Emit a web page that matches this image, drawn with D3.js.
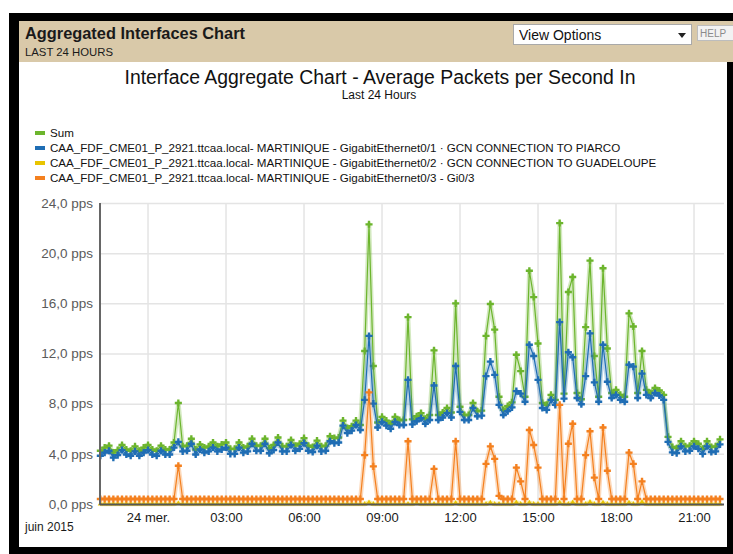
<!DOCTYPE html>
<html>
<head>
<meta charset="utf-8">
<script src="https://cdn.jsdelivr.net/npm/d3@7/dist/d3.min.js"></script>
<style>
  html, body { margin: 0; padding: 0; background: #fff; }
  svg { display: block; }
  text { font-family: "Liberation Sans", Arial, sans-serif; }
</style>
</head>
<body>
<svg id="chart" width="733" height="554"></svg>
<script>
// ---------------- DATA ----------------
const startTime = "2015-06-23T22:10:00Z";   // first sample
const stepMinutes = 10;                      // sampling interval

const seriesNames = [
  "Sum",
  "CAA_FDF_CME01_P_2921.ttcaa.local- MARTINIQUE  - GigabitEthernet0/1  · GCN CONNECTION TO PIARCO",
  "CAA_FDF_CME01_P_2921.ttcaa.local- MARTINIQUE  - GigabitEthernet0/2  · GCN CONNECTION TO GUADELOUPE",
  "CAA_FDF_CME01_P_2921.ttcaa.local- MARTINIQUE  - GigabitEthernet0/3  - Gi0/3"
];

const sumValues = [
  4.25, 4.5, 4.65, 4.1, 4.3, 4.7, 4.35, 4.25, 4.6, 4.25, 4.5, 4.7, 4.35, 4.25, 4.65, 4.35, 4.35, 4.9, 8.05, 4.6,
  4.65, 5.2, 4.35, 4.75, 4.5, 4.6, 4.9, 4.6, 4.75,
  4.9, 4.4, 4.4, 4.9, 4.5, 4.6, 5.2, 4.65, 4.65, 5.2, 4.45, 4.7, 5.3, 4.6, 4.6, 5.1, 4.65, 4.8, 5.25, 4.65,
  4.55, 5.05, 4.6, 4.65, 5.4, 5.25, 5.3, 6.65, 6.05,
  6.2, 6.65, 6.3, 12.2, 22.3, 11.0, 6.5, 6.95, 6.65, 6.4, 6.95, 6.7, 6.7, 14.9, 6.75, 7.0, 7.25, 6.8, 7.1, 12.25,
  7.1, 7.3, 7.65, 7.3, 16.0, 7.75, 7.1, 7.1,
  8.05, 7.4, 7.45, 13.4, 15.95, 13.9, 8.55, 7.5, 7.8, 8.1, 11.9, 10.6, 8.55, 18.6, 16.5, 12.8, 8.05, 7.9, 8.7, 8.3,
  22.4, 8.8, 16.9, 18.1, 8.85, 8.35, 14.1, 19.4, 11.8,
  8.55, 18.8, 12.4, 8.85, 9.1, 8.7, 8.55, 15.2, 14.15, 8.85, 12.2, 9.1, 8.85, 9.25, 9.05, 8.7, 5.35, 4.55, 4.45, 5.0,
  4.6, 4.65, 5.0, 4.8, 4.4, 5.0, 4.55, 4.6, 5.15
];

const gi01Values = [
  3.85, 4.1, 4.25, 3.7, 3.9, 4.3, 3.95, 3.85, 4.2, 3.85, 4.1, 4.3, 3.95, 3.85, 4.25, 3.95, 3.95, 4.5, 4.95, 4.2,
  4.25, 4.8, 3.95, 4.35, 4.1, 4.2, 4.5, 4.2, 4.35,
  4.5, 4.0, 4.0, 4.5, 4.1, 4.2, 4.8, 4.25, 4.25, 4.8, 4.05, 4.3, 4.9, 4.2, 4.2, 4.7, 4.25, 4.4, 4.85, 4.25,
  4.15, 4.65, 4.2, 4.25, 5.0, 4.85, 4.9, 6.25, 5.65,
  5.85, 6.3, 5.9, 8.3, 13.4, 8.0, 6.1, 6.55, 6.25, 6.0, 6.55, 6.3, 6.3, 9.9, 6.35, 6.6, 6.85, 6.4, 6.7, 9.45,
  6.7, 6.9, 7.25, 6.9, 11.0, 7.35, 6.7, 6.7,
  7.65, 7.0, 7.05, 10.2, 11.35, 10.3, 7.9, 7.1, 7.4, 7.7, 9.0, 8.8, 8.15, 12.7, 11.8, 9.9, 7.65, 7.5, 8.3, 7.9,
  14.5, 8.4, 12.1, 11.7, 8.45, 7.95, 10.2, 13.6, 9.7,
  8.15, 12.7, 9.75, 8.45, 8.7, 8.3, 8.15, 11.1, 10.95, 8.45, 10.4, 8.7, 8.45, 8.85, 8.65, 8.3, 4.95, 4.12, 4.06, 4.6,
  4.2, 4.25, 4.6, 4.4, 4.0, 4.6, 4.15, 4.2, 4.75
];

const gi02Values = [
  0, 0, 0, 0, 0, 0, 0, 0, 0, 0, 0, 0, 0, 0, 0, 0, 0, 0, 0.05, 0,
  0, 0, 0, 0, 0, 0, 0, 0, 0,
  0, 0, 0, 0, 0, 0, 0, 0, 0, 0, 0, 0, 0, 0, 0, 0, 0, 0, 0, 0,
  0, 0, 0, 0, 0, 0, 0, 0, 0,
  0, 0, 0, 0, 0.12, 0, 0, 0, 0, 0, 0, 0, 0, 0, 0, 0.06, 0, 0, 0, 0,
  0, 0, 0, 0, 0.08, 0, 0, 0,
  0, 0, 0, 0, 0.1, 0, 0, 0, 0, 0, 0.12, 0, 0, 0.1, 0, 0, 0, 0, 0, 0,
  0.1, 0, 0, 0.12, 0, 0, 0, 0.15, 0,
  0, 0.1, 0, 0, 0, 0, 0, 0.1, 0, 0, 0.15, 0, 0, 0, 0, 0, 0, 0, 0, 0,
  0, 0, 0, 0, 0, 0, 0, 0, 0
];

const gi03Values = [
  0.4, 0.4, 0.4, 0.4, 0.4, 0.4, 0.4, 0.4, 0.4, 0.4, 0.4, 0.4, 0.4, 0.4, 0.4, 0.4, 0.4, 0.4, 3.05, 0.4,
  0.4, 0.4, 0.4, 0.4, 0.4, 0.4, 0.4, 0.4, 0.4,
  0.4, 0.4, 0.4, 0.4, 0.4, 0.4, 0.4, 0.4, 0.4, 0.4, 0.4, 0.4, 0.4, 0.4, 0.4, 0.4, 0.4, 0.4, 0.4, 0.4,
  0.4, 0.4, 0.4, 0.4, 0.4, 0.4, 0.4, 0.4, 0.4,
  0.4, 0.4, 0.4, 3.9, 8.9, 3.0, 0.4, 0.4, 0.4, 0.4, 0.4, 0.4, 0.4, 5.0, 0.4, 0.4, 0.4, 0.4, 0.4, 2.8,
  0.4, 0.4, 0.4, 0.4, 5.0, 0.4, 0.4, 0.4,
  0.4, 0.4, 0.4, 3.2, 4.6, 3.6, 0.65, 0.4, 0.4, 0.4, 2.9, 1.8, 0.4, 5.9, 4.7, 2.9, 0.4, 0.4, 0.4, 0.4,
  7.9, 0.4, 4.8, 6.4, 0.4, 0.4, 3.9, 5.8, 2.1,
  0.4, 6.1, 2.65, 0.4, 0.4, 0.4, 0.4, 4.1, 3.2, 0.4, 1.8, 0.4, 0.4, 0.4, 0.4, 0.4, 0.4, 0.4, 0.4, 0.4,
  0.4, 0.4, 0.4, 0.4, 0.4, 0.4, 0.4, 0.4, 0.4
];

const yTickValues = [0, 4, 8, 12, 16, 20, 24];
const xTickHours = [0, 3, 6, 9, 12, 15, 18, 21];
const xTickLabels = ["24 mer.", "03:00", "06:00", "09:00", "12:00", "15:00", "18:00", "21:00"];

const seriesColors = ["#6cb52d", "#1f6db4", "#e8c400", "#f4801f"];

// ---------------- CHART ----------------
const svg = d3.select("#chart");
const t0 = new Date(startTime).getTime();
const times = sumValues.map((_, i) => new Date(t0 + i * stepMinutes * 60000));
const midnight = Date.UTC(2015, 5, 24, 0, 0);

const plot = { left: 100, right: 724, top: 203, bottom: 504 };

const x = d3.scaleUtc()
  .domain([new Date(midnight - 110.8 * 60000), new Date(midnight + 1329.2 * 60000)])
  .range([plot.left, plot.right]);
const y = d3.scaleLinear().domain([0, 24]).range([plot.bottom, plot.top]);

// frame
svg.append("rect").attr("x", 0).attr("y", 0).attr("width", 733).attr("height", 554).attr("fill", "#fff");
svg.append("rect").attr("x", 9).attr("y", 13).attr("width", 724).attr("height", 541).attr("fill", "#000");
svg.append("rect").attr("x", 19).attr("y", 21).attr("width", 708).attr("height", 526).attr("fill", "#fff");

// header band
svg.append("rect").attr("x", 19).attr("y", 21).attr("width", 714).attr("height", 41).attr("fill", "#d9c9a9");
svg.append("text").attr("x", 25).attr("y", 39).attr("font-size", 16).attr("font-weight", "bold")
  .attr("fill", "#1a1a1a").attr("textLength", 220).attr("lengthAdjust", "spacingAndGlyphs")
  .text("Aggregated Interfaces Chart");
svg.append("text").attr("x", 25).attr("y", 56).attr("font-size", 11).attr("fill", "#1a1a1a")
  .attr("textLength", 88).attr("lengthAdjust", "spacingAndGlyphs").text("LAST 24 HOURS");

// view options select
svg.append("rect").attr("x", 513.5).attr("y", 24.5).attr("width", 178).attr("height", 20)
  .attr("fill", "#fff").attr("stroke", "#a9a9a9");
svg.append("text").attr("x", 519).attr("y", 40).attr("font-size", 14).attr("fill", "#111").text("View Options");
svg.append("path").attr("d", "M678,33 L686,33 L682,38 Z").attr("fill", "#222");
// help button
svg.append("rect").attr("x", 697.5).attr("y", 25.5).attr("width", 40).attr("height", 15)
  .attr("fill", "#f2f2f2").attr("stroke", "#bdbdbd");
svg.append("text").attr("x", 700).attr("y", 37).attr("font-size", 10).attr("fill", "#8a8a8a").text("HELP");

// titles
svg.append("text").attr("x", 380).attr("y", 84).attr("text-anchor", "middle").attr("font-size", 19.5)
  .attr("fill", "#111").attr("textLength", 511).attr("lengthAdjust", "spacingAndGlyphs")
  .text("Interface Aggregate Chart - Average Packets per Second In");
svg.append("text").attr("x", 379).attr("y", 99).attr("text-anchor", "middle").attr("font-size", 12)
  .attr("fill", "#111").text("Last 24 Hours");

// legend
const legend = svg.append("g");
seriesNames.forEach((name, i) => {
  const ly = 133 + i * 15;
  legend.append("rect").attr("x", 35).attr("y", ly - 2).attr("width", 10).attr("height", 4).attr("fill", seriesColors[i]);
  legend.append("text").attr("x", 50).attr("y", ly + 4).attr("font-size", 11.6).attr("fill", "#111").text(name);
});

// gridlines
svg.append("g").selectAll("line").data(yTickValues.filter(v => v > 0)).join("line")
  .attr("x1", plot.left).attr("x2", plot.right)
  .attr("y1", d => y(d) + 0.5).attr("y2", d => y(d) + 0.5)
  .attr("stroke", "#e4e4e4").attr("stroke-width", 1.5);
const xTickDates = xTickHours.map(h => new Date(midnight + h * 3600000));
svg.append("g").selectAll("line").data(xTickDates).join("line")
  .attr("x1", d => x(d)).attr("x2", d => x(d))
  .attr("y1", plot.top).attr("y2", plot.bottom)
  .attr("stroke", "#e4e4e4").attr("stroke-width", 1.5);

// axes
const yAxis = d3.axisLeft(y).tickValues(yTickValues).tickSize(0).tickPadding(7)
  .tickFormat(d => d3.format(".1f")(d).replace(".", ",") + " pps");
const yg = svg.append("g").attr("transform", `translate(${plot.left},0)`).call(yAxis);
yg.select(".domain").remove();
yg.selectAll("text").attr("font-size", 13.5).attr("fill", "#5a5a5a")
  .attr("font-family", "'Liberation Sans', Arial, sans-serif");

const xAxis = d3.axisBottom(x).tickValues(xTickDates).tickSize(0).tickPadding(9)
  .tickFormat((d, i) => xTickLabels[i]);
const xg = svg.append("g").attr("transform", `translate(0,${plot.bottom})`).call(xAxis);
xg.select(".domain").remove();
xg.selectAll("text").attr("font-size", 13).attr("fill", "#1a1a1a")
  .attr("font-family", "'Liberation Sans', Arial, sans-serif");

svg.append("text").attr("x", 25).attr("y", 531).attr("font-size", 12).attr("fill", "#1a1a1a").text("juin 2015");

// series
const allSeries = [sumValues, gi01Values, gi02Values, gi03Values];
const line = d3.line().x((d, i) => x(times[i])).y(d => y(d));
const drawOrder = [0, 1, 2, 3];
const gSeries = svg.append("g");
drawOrder.forEach(si => {
  const vals = allSeries[si];
  const g = gSeries.append("g");
  g.append("path").attr("d", line(vals)).attr("fill", "none")
    .attr("stroke", seriesColors[si]).attr("stroke-width", 4.5).attr("stroke-opacity", 0.3)
    .attr("stroke-linejoin", "round");
  g.append("path").attr("d", line(vals)).attr("fill", "none")
    .attr("stroke", seriesColors[si]).attr("stroke-width", 1.2).attr("stroke-linejoin", "round");
  const sym = si === 2 ? d3.symbol(d3.symbolTriangle, 12) : d3.symbol(d3.symbolCross, 28);
  g.selectAll("path.m").data(vals).join("path").attr("class", "m")
    .attr("transform", (d, i) => `translate(${x(times[i])},${y(d)})`)
    .attr("d", sym).attr("fill", seriesColors[si]);
});

// axis lines
svg.append("line").attr("x1", plot.left).attr("x2", plot.left).attr("y1", plot.top).attr("y2", plot.bottom + 1)
  .attr("stroke", "#666").attr("stroke-width", 2);
svg.append("line").attr("x1", plot.left).attr("x2", plot.right).attr("y1", plot.bottom + 0.5).attr("y2", plot.bottom + 0.5)
  .attr("stroke", "#555").attr("stroke-width", 2);
</script>
</body>
</html>
